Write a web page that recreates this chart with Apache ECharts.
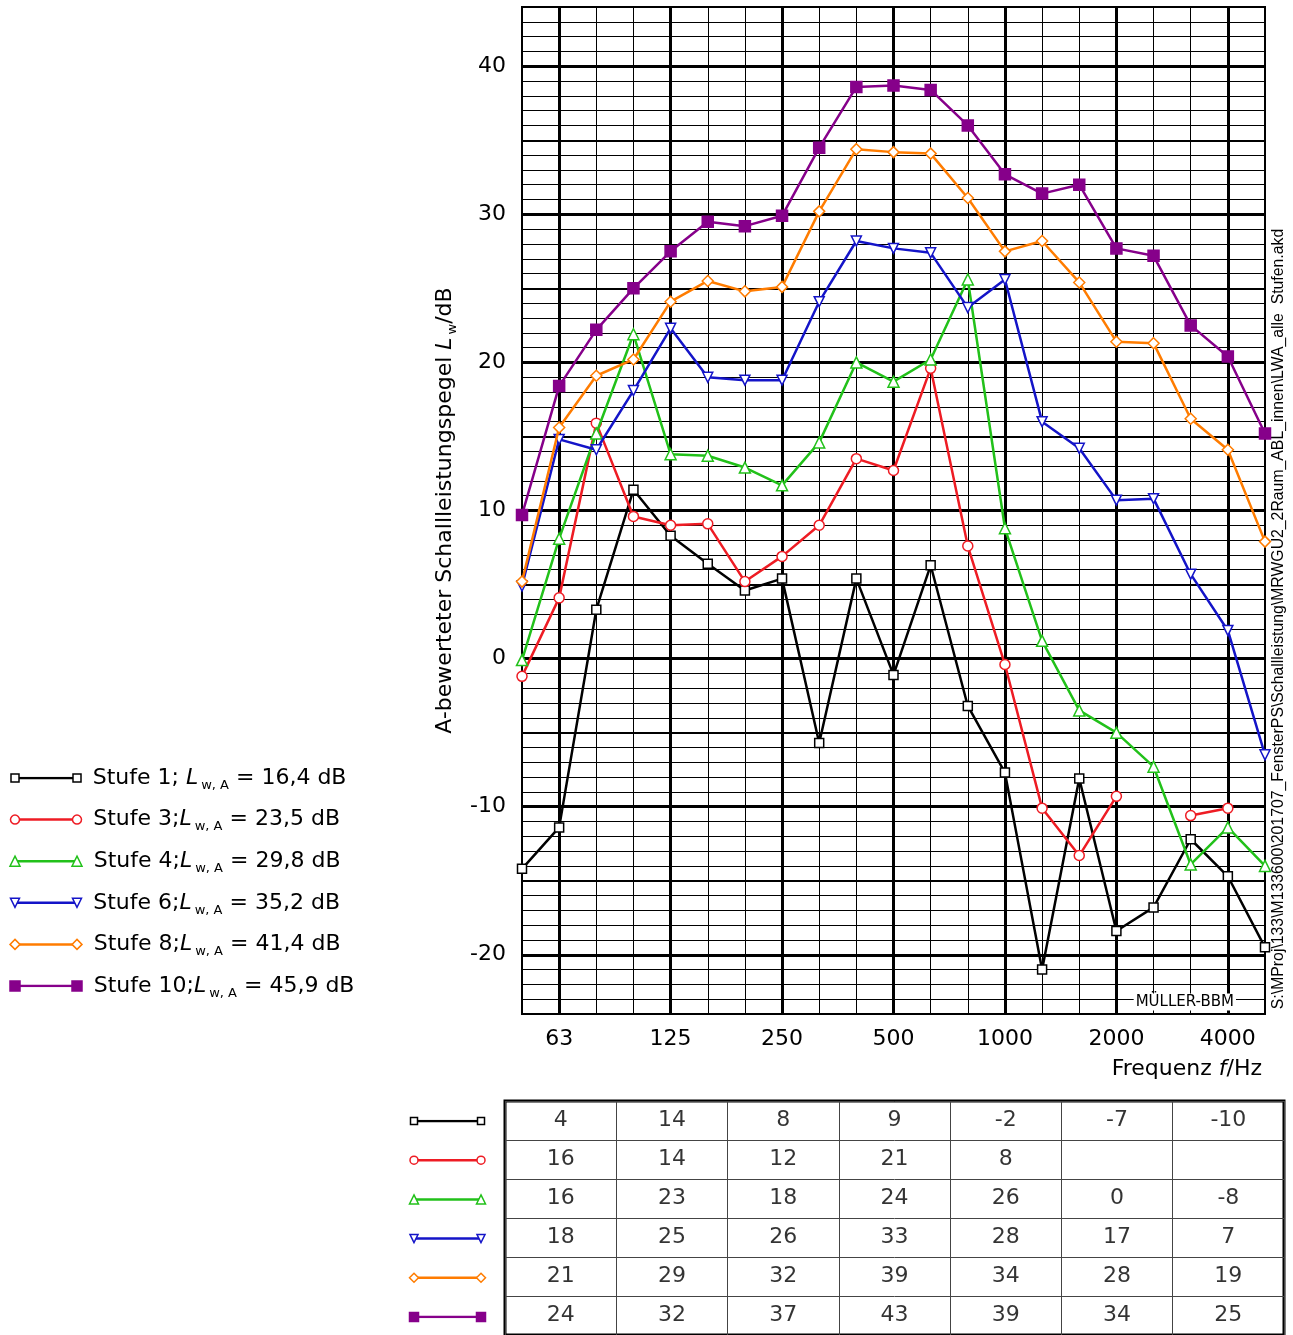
<!DOCTYPE html>
<html>
<head>
<meta charset="utf-8">
<script src="https://cdn.jsdelivr.net/npm/echarts@6/dist/echarts.min.js"></script>
<style>
html,body{margin:0;padding:0;background:#fff}
#chart{width:1293px;height:1335px}
</style>
</head>
<body>
<div id="chart"></div>
<script>
// Terzbänder 50 Hz .. 5000 Hz
const freqs = ['50','63','80','100','125','160','200','250','315','400','500','630','800','1000','1250','1600','2000','2500','3150','4000','5000'];
const octaveIdx = [1, 4, 7, 10, 13, 16, 19];

// Schallleistungspegel je Stufe (dB)
const stufe1  = [-14.2,-11.4,3.3,11.4,8.3,6.4,4.6,5.4,-5.7,5.4,-1.1,6.3,-3.2,-7.7,-21.0,-8.1,-18.4,-16.8,-12.2,-14.7,-19.5];
const stufe3  = [-1.2,4.1,15.9,9.6,9.0,9.1,5.2,6.9,9.0,13.5,12.7,19.6,7.6,-0.4,-10.1,-13.3,-9.3,null,-10.6,-10.1,null];
const stufe4  = [-0.1,8.1,15.2,21.9,13.8,13.7,12.9,11.7,14.6,20.0,18.7,20.2,25.6,8.8,1.2,-3.5,-5.0,-7.3,-13.9,-11.4,-14.0];
const stufe6  = [4.9,14.8,14.1,18.1,22.3,19.0,18.8,18.8,24.1,28.2,27.7,27.4,23.7,25.6,16.0,14.2,10.7,10.8,5.7,1.9,-6.5];
const stufe8  = [5.2,15.6,19.1,20.2,24.1,25.5,24.8,25.1,30.2,34.4,34.2,34.1,31.1,27.5,28.2,25.4,21.4,21.3,16.2,14.1,7.9];
const stufe10 = [9.7,18.4,22.2,25.0,27.5,29.5,29.2,29.9,34.5,38.6,38.7,38.4,36.0,32.7,31.4,32.0,27.7,27.2,22.5,20.4,15.2];

const names = ['Stufe 1', 'Stufe 3', 'Stufe 4', 'Stufe 6', 'Stufe 8', 'Stufe 10'];
const lwa   = ['16,4', '23,5', '29,8', '35,2', '41,4', '45,9'];

// Oktavwerte in der Tabelle
const tab1  = [4, 14, 8, 9, -2, -7, -10];
const tab3  = [16, 14, 12, 21, 8, null, null];
const tab4  = [16, 23, 18, 24, 26, 0, -8];
const tab6  = [18, 25, 26, 33, 28, 17, 7];
const tab8  = [21, 29, 32, 39, 34, 28, 19];
const tab10 = [24, 32, 37, 43, 39, 34, 25];

const allValues = [stufe1, stufe3, stufe4, stufe6, stufe8, stufe10];
const allTab = [tab1, tab3, tab4, tab6, tab8, tab10];

// Darstellung je Stufe
const styles = [
    {color: '#000000', symbol: 'rect',     size: 9,  rotate: 0,   fill: '#ffffff'},
    {color: '#ee1c24', symbol: 'circle',   size: 10, rotate: 0,   fill: '#ffffff'},
    {color: '#22c11a', symbol: 'triangle', size: 11, rotate: 0,   fill: '#ffffff'},
    {color: '#1414c8', symbol: 'triangle', size: 10, rotate: 180, fill: '#ffffff'},
    {color: '#ff7c00', symbol: 'diamond',  size: 11, rotate: 0,   fill: '#ffffff'},
    {color: '#86008a', symbol: 'rect',     size: 11, rotate: 0,   fill: '#86008a'}
];

const FONT = 'DejaVu Sans, sans-serif';
const FS = 22;

let chart = echarts.init(document.getElementById('chart'));

// dicke Linien: Oktaven senkrecht, 5-dB-Raster waagerecht
let majorLines = octaveIdx.map(i => ({xAxis: i, lineStyle: {width: 3}}));
for (let v = -20; v <= 40; v += 5) {
    majorLines.push({yAxis: v, lineStyle: {width: v % 10 === 0 ? 3 : 2}});
}

const subRich = {
    i: {fontStyle: 'italic', fontSize: FS, fontFamily: FONT, lineHeight: 28},
    s: {fontSize: 13, fontFamily: FONT, lineHeight: 13, verticalAlign: 'bottom', padding: [0, 0, 0, 3]}
};

let series = [];
allValues.forEach((vals, k) => {
    let st = styles[k];
    series.push({
        name: names[k],
        type: 'line',
        xAxisIndex: 0,
        yAxisIndex: 0,
        data: vals.map((v, i) => [i, v]),
        symbol: st.symbol,
        symbolSize: st.size,
        symbolRotate: st.rotate,
        showAllSymbol: true,
        connectNulls: false,
        z: 3 + k,
        lineStyle: {color: st.color, width: 2.5},
        itemStyle: {color: st.fill, borderColor: st.color, borderWidth: 1.5},
        emphasis: {disabled: true},
        markLine: k === 0 ? {
            silent: true,
            z: 1,
            symbol: ['none', 'none'],
            label: {show: false},
            lineStyle: {color: '#000', type: 'solid'},
            data: majorLines
        } : undefined
    });
});

// Legende links: zwei Punkte je Stufe mit Text am rechten Ende
allValues.forEach((vals, k) => {
    let st = styles[k];
    let sep = k === 0 ? '; ' : ';';
    series.push({
        type: 'line',
        xAxisIndex: 1,
        yAxisIndex: 1,
        data: [[0, k], {value: [1, k], label: {show: true}}],
        symbol: st.symbol,
        symbolSize: st.size - 1,
        symbolRotate: st.rotate,
        lineStyle: {color: st.color, width: 2.5},
        itemStyle: {color: st.fill, borderColor: st.color, borderWidth: 1.5},
        label: {
            show: false,
            position: 'right',
            distance: 11,
            formatter: names[k] + sep + '{i|L}{s|w, A} = ' + lwa[k] + ' dB',
            color: '#000',
            fontFamily: FONT,
            fontSize: FS,
            lineHeight: 28,
            rich: subRich
        },
        emphasis: {disabled: true}
    });
});

// Symbole vor der Tabelle
allValues.forEach((vals, k) => {
    let st = styles[k];
    series.push({
        type: 'line',
        xAxisIndex: 3,
        yAxisIndex: 3,
        data: [[0, k], [1, k]],
        symbol: st.symbol,
        symbolSize: st.size - 2,
        symbolRotate: st.rotate,
        lineStyle: {color: st.color, width: 2.5},
        itemStyle: {color: st.fill, borderColor: st.color, borderWidth: 1.5},
        emphasis: {disabled: true}
    });
});

// Tabellenwerte
let cells = [];
allTab.forEach((row, r) => {
    row.forEach((v, c) => {
        if (v !== null) cells.push([c + 0.5, r + 0.5, v]);
    });
});
series.push({
    type: 'scatter',
    xAxisIndex: 2,
    yAxisIndex: 2,
    data: cells,
    symbolSize: 1,
    itemStyle: {color: 'rgba(0,0,0,0)'},
    label: {
        show: true,
        position: 'inside',
        formatter: p => String(p.value[2]),
        color: '#000',
        fontFamily: FONT,
        fontSize: FS,
        padding: [3, 0, 0, 0]
    },
    emphasis: {disabled: true}
});

let option = {
    animation: false,
    backgroundColor: '#fff',
    grid: [
        {left: 522, top: 7, width: 743, height: 1007, show: true, borderColor: '#000', borderWidth: 2},
        {left: 15, top: 778, width: 62, height: 208},
        {left: 505, top: 1101, width: 779, height: 235, show: true, borderColor: '#000', borderWidth: 3},
        {left: 414, top: 1121, width: 67, height: 196}
    ],
    xAxis: [
        {
            gridIndex: 0, type: 'value', min: 0, max: 20, interval: 1,
            axisLine: {show: false}, axisTick: {show: false},
            axisLabel: {
                formatter: v => octaveIdx.indexOf(v) >= 0 ? freqs[v] : '',
                color: '#000', fontFamily: FONT, fontSize: FS, margin: 14
            },
            splitLine: {show: true, lineStyle: {color: '#000', width: 1}}
        },
        {gridIndex: 1, type: 'value', min: 0, max: 1, show: false},
        {
            gridIndex: 2, type: 'value', min: 0, max: 7, interval: 1,
            axisLine: {show: false}, axisTick: {show: false}, axisLabel: {show: false},
            splitLine: {show: true, lineStyle: {color: '#444', width: 1}}
        },
        {gridIndex: 3, type: 'value', min: 0, max: 1, show: false}
    ],
    yAxis: [
        {
            gridIndex: 0, type: 'value', min: -24, max: 44, interval: 1,
            axisLine: {show: false}, axisTick: {show: false},
            axisLabel: {
                formatter: v => v % 10 === 0 ? String(v) : '',
                color: '#000', fontFamily: FONT, fontSize: FS, margin: 16,
                padding: [5, 0, 0, 0]
            },
            splitLine: {show: true, lineStyle: {color: '#000', width: 1}},
            name: 'A-bewerteter Schallleistungspegel {i|L}{s|w}/dB',
            nameLocation: 'middle',
            nameGap: 62,
            nameRotate: 90,
            nameTextStyle: {
                color: '#000', fontFamily: FONT, fontSize: FS, lineHeight: 28,
                rich: subRich
            }
        },
        {gridIndex: 1, type: 'value', min: 0, max: 5, inverse: true, show: false},
        {
            gridIndex: 2, type: 'value', min: 0, max: 6, interval: 1, inverse: true,
            axisLine: {show: false}, axisTick: {show: false}, axisLabel: {show: false},
            splitLine: {show: true, lineStyle: {color: '#444', width: 1}}
        },
        {gridIndex: 3, type: 'value', min: 0, max: 5, inverse: true, show: false}
    ],
    graphic: [
        {
            type: 'text', right: 31, top: 1058,
            style: {
                text: 'Frequenz {i|f}/Hz', fill: '#000', font: FS + 'px ' + FONT,
                rich: {i: {fontStyle: 'italic', fontSize: FS, fontFamily: FONT}}
            }
        },
        {
            type: 'text', x: 1236, y: 1002,
            style: {
                text: 'MÜLLER-BBM', fill: '#000', font: '15px DejaVu Sans, sans-serif',
                align: 'right', verticalAlign: 'middle', backgroundColor: '#fff', padding: [1, 2, 1, 2]
            },
            z: 10
        },
        {
            type: 'text', x: 1279, y: 619, rotation: Math.PI / 2,
            style: {
                text: 'S:\\MProj\\133\\M133600\\201707_FensterPS\\Schallleistung\\MRWGU2_2Raum_ABL_innen\\LWA_alle  Stufen.akd',
                fill: '#000', font: '15.8px Liberation Sans, Arial, sans-serif', align: 'center', verticalAlign: 'middle'
            }
        }
    ],
    series: series
};

chart.setOption(option);
</script>
</body>
</html>
